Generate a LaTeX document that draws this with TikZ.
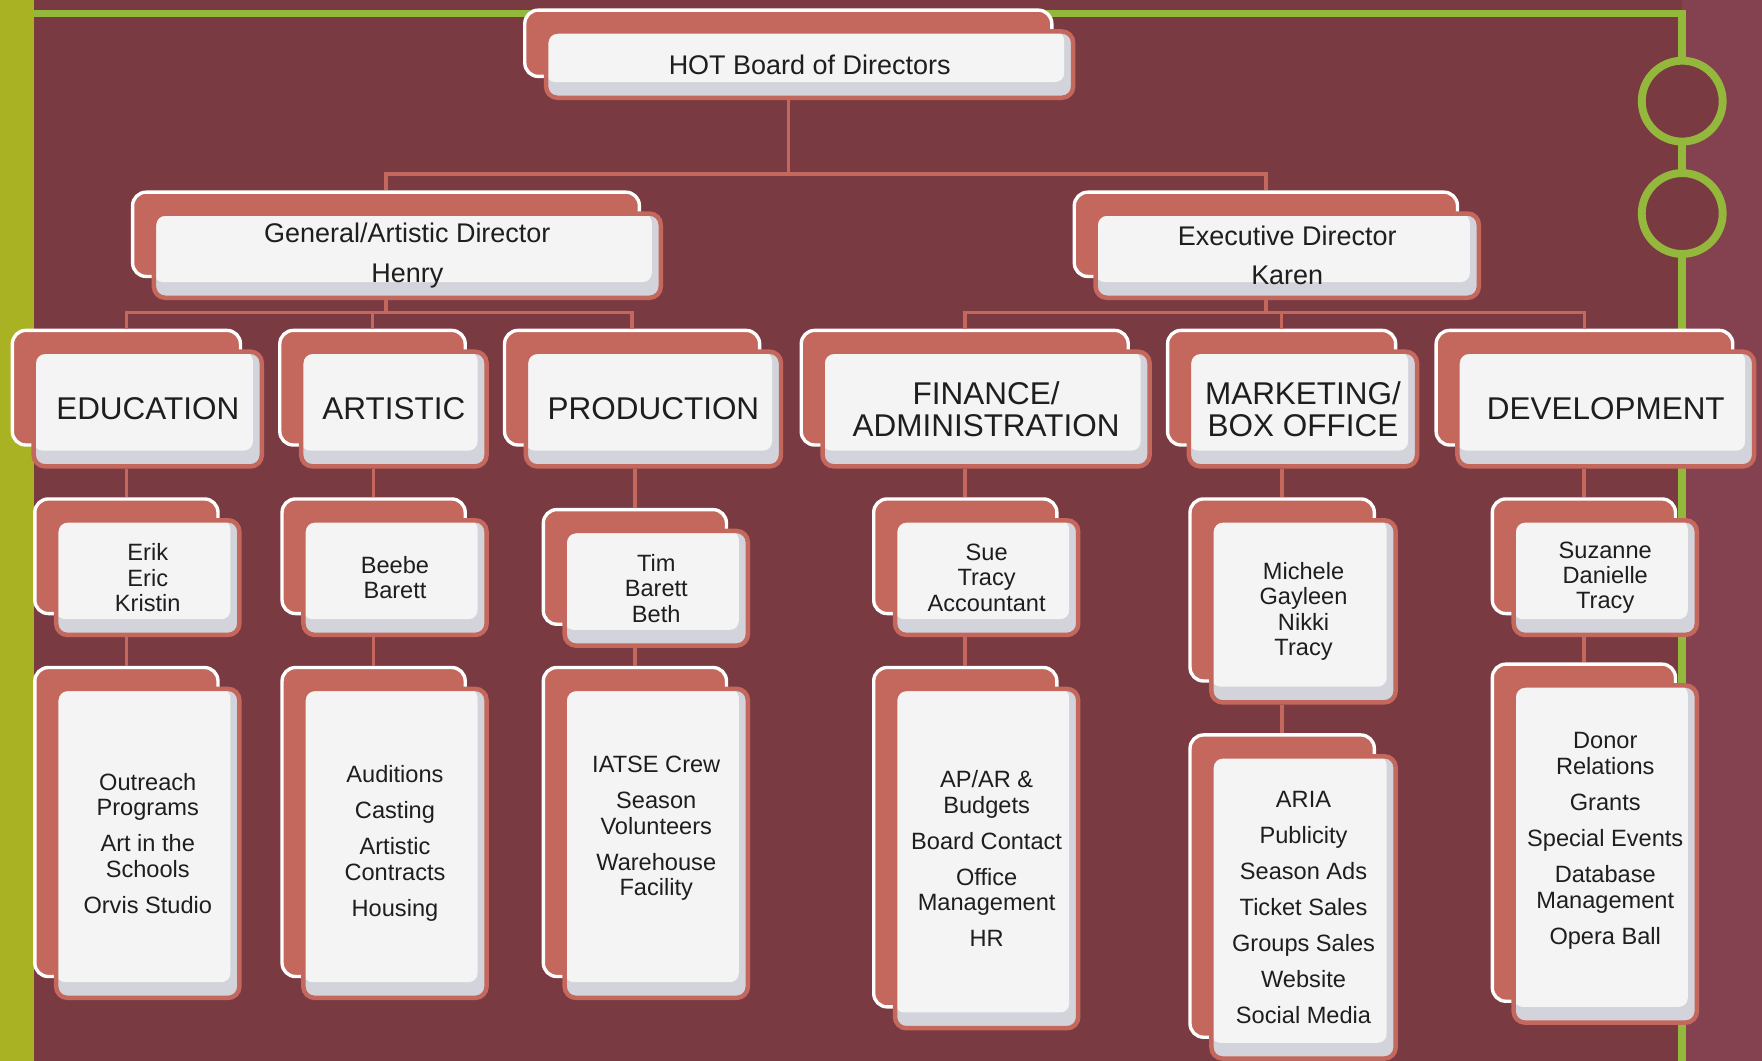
\documentclass[tikz,border=0pt]{standalone}
\usepackage{fontspec}
\setmainfont{Liberation Sans}
\definecolor{wine}{HTML}{7A3A41}
\definecolor{winelight}{HTML}{844250}
\definecolor{salmon}{HTML}{C4675D}
\definecolor{leaf}{HTML}{93B83C}
\definecolor{olive}{HTML}{A9B223}
\definecolor{cardgrey}{HTML}{D3D4DB}
\definecolor{cardwhite}{HTML}{F4F4F4}
\definecolor{ink}{HTML}{1E1E1E}
\tikzset{
backcard/.style={draw=white, line width=1.5pt, fill=salmon, rounded corners=6pt, inner sep=0pt},
frontcard/.style={draw=salmon, line width=2pt, fill=cardgrey, rounded corners=5pt, inner sep=0pt,
  align=center, text=ink,
  path picture={\fill[cardwhite, rounded corners=4pt] (path picture bounding box.north west)
    rectangle ([xshift=-4pt, yshift=7pt]path picture bounding box.south east);}},
link/.style={draw=salmon, line width=1.6pt},
toplvl/.style={every node/.append style={font=\fontsize{12}{17.5}\selectfont}},
deptlvl/.style={every node/.append style={font=\fontsize{14}{14}\selectfont}},
namelvl/.style={every node/.append style={font=\fontsize{10.5}{11.3}\selectfont}},
tasklvl/.style={every node/.append style={font=\fontsize{10.5}{11.5}\selectfont}},
pics/card/.style n args={3}{code={
  \node[backcard, minimum width=#1, minimum height=#2] (-b) at (-19,-19) {};
  \node[frontcard, minimum width=#1, minimum height=#2] (-f) at (0,0) {#3};
  }}
}

\begin{document}
\begin{tikzpicture}[x=0.5pt, y=-0.5pt]
  \useasboundingbox (0,0) rectangle (1568,944);
  \fill[wine] (0,0) rectangle (1568,944);
  \fill[winelight] (1497,0) rectangle (1568,944);
  \fill[olive] (0,0) rectangle (30,944);
  \draw[leaf, line width=3.5pt] (30,12) -- (1497,12) -- (1497,944);
  \draw[leaf, line width=3.5pt, fill=wine] (1497,90) circle[radius=18pt];
  \draw[leaf, line width=3.5pt, fill=wine] (1497,190) circle[radius=18pt];

  \pic[toplvl] (hot) at (720.5,57.5) {card={234.5pt}{29.5pt}{HOT Board of Directors}};
  \pic[toplvl] (gad) at (362.5,227.5) {card={225.5pt}{37.5pt}{General/Artistic Director\\Henry}};
  \pic[toplvl] (exd) at (1145.5,227.5) {card={170.5pt}{37.5pt}{Executive Director\\Karen}};

  \pic[deptlvl] (edu) at (131.5,364) {card={101.5pt}{51pt}{EDUCATION}};
  \pic[deptlvl] (art) at (350.5,364) {card={82.5pt}{51pt}{ARTISTIC}};
  \pic[deptlvl] (prod) at (581.5,364) {card={113.5pt}{51pt}{PRODUCTION}};
  \pic[deptlvl] (fin) at (877.5,364) {card={145.5pt}{51pt}{FINANCE/\\ADMINISTRATION}};
  \pic[deptlvl] (mkt) at (1159.5,364) {card={101.5pt}{51pt}{MARKETING/\\BOX OFFICE}};
  \pic[deptlvl] (dev) at (1429,364) {card={132pt}{51pt}{DEVELOPMENT}};

  \pic[namelvl] (eduP) at (131.5,514) {card={81.5pt}{51pt}{Erik\\Eric\\Kristin}};
  \pic[namelvl] (artP) at (351.5,514) {card={81.5pt}{51pt}{Beebe\\Barett}};
  \pic[namelvl] (prodP) at (584,523.5) {card={81.5pt}{51pt}{Tim\\Barett\\Beth}};
  \pic[namelvl] (finP) at (878,514) {card={81.5pt}{51pt}{Sue\\Tracy\\Accountant}};
  \pic[namelvl] (mktP) at (1160,544) {card={82pt}{81pt}{Michele\\Gayleen\\Nikki\\Tracy}};
  \pic[namelvl] (devP) at (1428.5,514) {card={81.5pt}{51pt}{Suzanne\\Danielle\\Tracy}};

  \pic[tasklvl] (eduT) at (131.5,750.5) {card={81.5pt}{137.5pt}{Outreach\\Programs\\[4.5pt]Art in the\\Schools\\[4.5pt]Orvis Studio}};
  \pic[tasklvl] (artT) at (351.5,750.5) {card={81.5pt}{137.5pt}{Auditions\\[4.5pt]Casting\\[4.5pt]Artistic\\Contracts\\[4.5pt]Housing}};
  \pic[tasklvl, every node/.append style={text depth=15.5pt}] (prodT) at (584,750.5) {card={81.5pt}{137.5pt}{IATSE Crew\\[4.5pt]Season\\Volunteers\\[4.5pt]Warehouse\\Facility}};
  \pic[tasklvl] (finT) at (878,764) {card={81.5pt}{151pt}{AP/AR \&\\Budgets\\[4.5pt]Board Contact\\[4.5pt]Office\\Management\\[4.5pt]HR}};
  \pic[tasklvl] (mktT) at (1160,807.5) {card={82pt}{134.5pt}{ARIA\\[4.5pt]Publicity\\[4.5pt]Season Ads\\[4.5pt]Ticket Sales\\[4.5pt]Groups Sales\\[4.5pt]Website\\[4.5pt]Social Media}};
  \pic[tasklvl, every node/.append style={text depth=14pt}] (devT) at (1428.5,760) {card={81.5pt}{150pt}{Donor\\Relations\\[4.5pt]Grants\\[4.5pt]Special Events\\[4.5pt]Database\\Management\\[4.5pt]Opera Ball}};

  \coordinate (bus1) at (0,155);
  \coordinate (bus2) at (0,278);
  \draw[link] (hot-b |- hot-f.south) -- (hot-b |- bus1) -| (gad-b.north);
  \draw[link] (hot-b |- bus1) -| (exd-b.north);
  \draw[link] (gad-b |- gad-f.south) -- (gad-b |- bus2) -| (edu-b.north);
  \draw[link] (gad-b |- bus2) -| (art-b.north);
  \draw[link] (gad-b |- bus2) -| (prod-b.north);
  \draw[link] (exd-b |- exd-f.south) -- (exd-b |- bus2) -| (fin-b.north);
  \draw[link] (exd-b |- bus2) -| (mkt-b.north);
  \draw[link] (exd-b |- bus2) -| (dev-b.north);
  \foreach \d in {edu,art,prod,fin,mkt,dev} {
    \draw[link] (\d P-b.north |- \d-f.south) -- (\d P-b.north);
    \draw[link] (\d T-b.north |- \d P-f.south) -- (\d T-b.north);
  }
\end{tikzpicture}
\end{document}
